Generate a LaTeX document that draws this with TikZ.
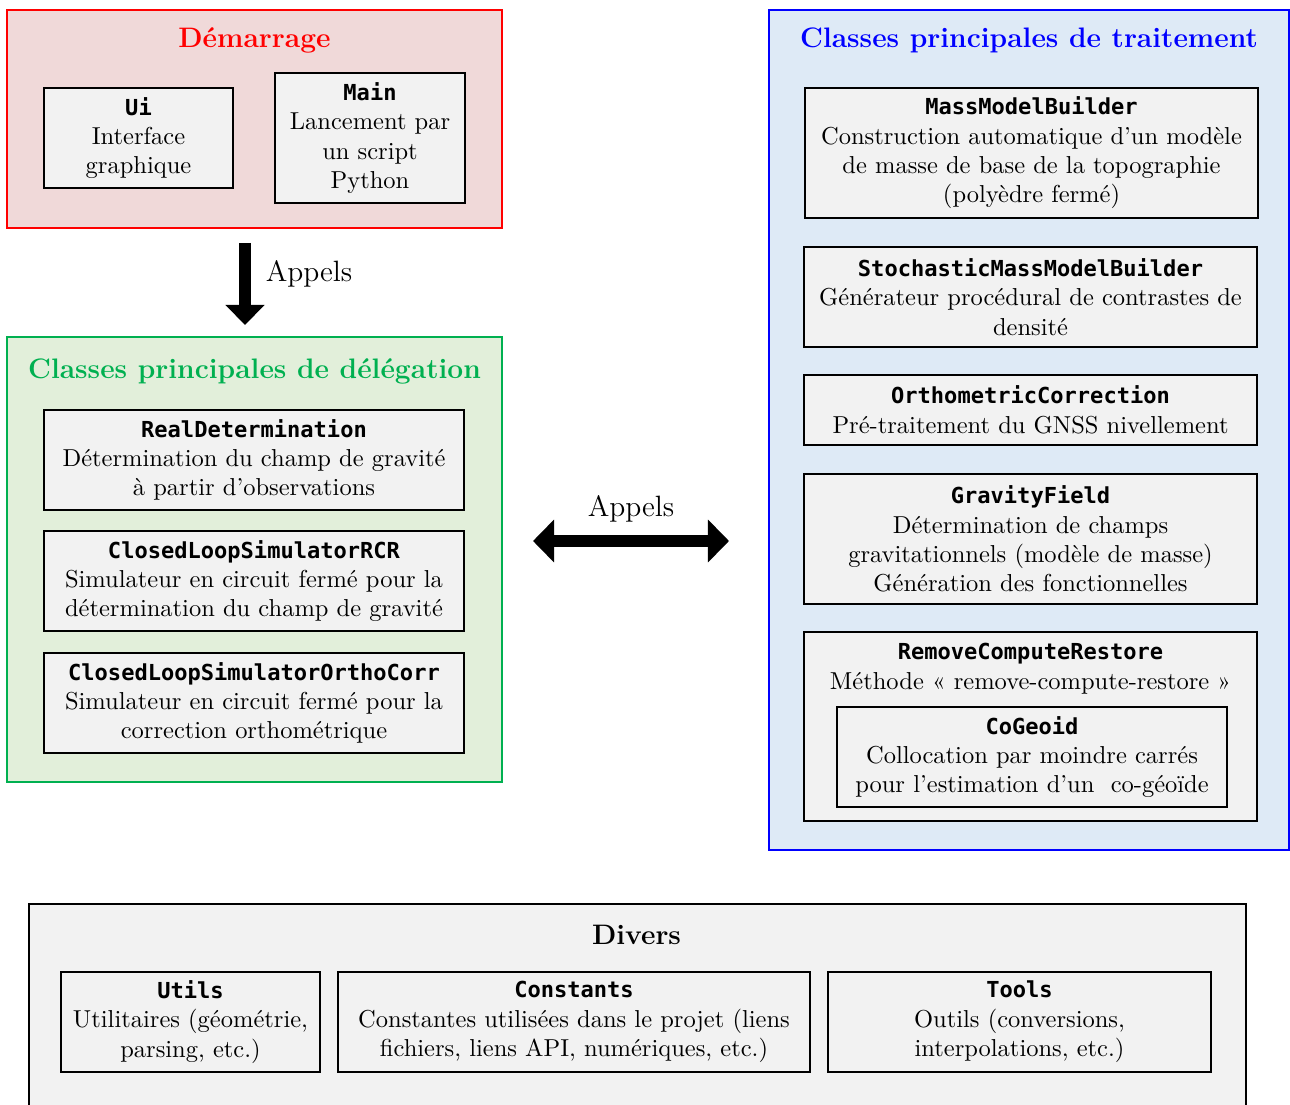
\documentclass[tikz,border=0pt]{standalone}
\usepackage{fontspec}
\newfontfamily\codefont{DejaVu Sans Mono}[Scale=0.9]
\usetikzlibrary{arrows.meta,calc}
\newdimen\pxu \pxu=0.4082pt
\definecolor{startfill}{RGB}{240,217,217}
\definecolor{startline}{RGB}{255,0,0}
\definecolor{delegfill}{RGB}{226,239,218}
\definecolor{delegline}{RGB}{0,176,80}
\definecolor{procfill}{RGB}{222,234,246}
\definecolor{procline}{RGB}{0,0,255}
\definecolor{classfill}{RGB}{242,242,242}
\newcommand{\cls}[1]{{\codefont\bfseries #1}}
\begin{document}
\begin{tikzpicture}[x=1\pxu, y=-1\pxu,
  group/.style={draw, line width=0.8pt, inner sep=0pt},
  grouptitle/.style={font=\fontsize{11.5}{14}\selectfont\bfseries, inner sep=0pt},
  classbox/.style={draw=black, fill=classfill, line width=1pt, align=center, inner sep=0pt},
  fatarrow/.style={line width=4.5pt, -{Triangle[width=15.5pt,length=8.2pt]}},
  fatdouble/.style={line width=4.9pt, {Triangle[width=17pt,length=8.6pt]}-{Triangle[width=17pt,length=8.6pt]}},
  lbl/.style={inner sep=0pt, font=\large}]
\useasboundingbox (0,0) rectangle (1290,1104);
\clip (0,0) rectangle (1290,1104);

% --- Démarrage ---
\node[group, draw=startline, fill=startfill, minimum width=495\pxu, minimum height=218\pxu] (dem) at (254.5,119) {};
\node[grouptitle, text=startline] (demt) at (254.5,40) {Démarrage};
\node[classbox, minimum width=189\pxu, minimum height=100\pxu] (ui) at (138.5,138)
  {\cls{Ui}\\Interface\\graphique};
\node[classbox, minimum width=190\pxu, minimum height=130\pxu] (main) at (370,138)
  {\cls{Main}\\Lancement par\\un script\\Python};

% --- Délégation ---
\node[group, draw=delegline, fill=delegfill, minimum width=495\pxu, minimum height=445\pxu] (deleg) at (254.5,559.5) {};
\node[grouptitle, text=delegline] (delegt) at (254.5,371) {Classes principales de délégation};
\node[classbox, minimum width=420\pxu, minimum height=100\pxu] (realdet) at (254,460)
  {\cls{RealDetermination}\\Détermination du champ de gravité\\à partir d’observations};
\node[classbox, minimum width=420\pxu, minimum height=100\pxu] (rcrsim) at (254,581)
  {\cls{ClosedLoopSimulatorRCR}\\Simulateur en circuit fermé pour la\\détermination du champ de gravité};
\node[classbox, minimum width=420\pxu, minimum height=100\pxu] (orthosim) at (254,703)
  {\cls{ClosedLoopSimulatorOrthoCorr}\\Simulateur en circuit fermé pour la\\correction orthométrique};

% --- Traitement ---
\node[group, draw=procline, fill=procfill, minimum width=520\pxu, minimum height=840\pxu] (proc) at (1029,430) {};
\node[grouptitle, text=procline] (proct) at (1029,40) {Classes principales de traitement};
\node[classbox, minimum width=453\pxu, minimum height=130\pxu] (mmb) at (1031.5,153)
  {\cls{MassModelBuilder}\\Construction automatique d’un modèle\\de masse de base de la topographie\\(polyèdre fermé)};
\node[classbox, minimum width=453\pxu, minimum height=100\pxu] (smmb) at (1030.5,297)
  {\cls{StochasticMassModelBuilder}\\Générateur procédural de contrastes de\\densité};
\node[classbox, minimum width=453\pxu, minimum height=70\pxu] (orc) at (1030.5,410)
  {\cls{OrthometricCorrection}\\Pré-traitement du GNSS nivellement};
\node[classbox, minimum width=453\pxu, minimum height=130\pxu] (gf) at (1030.5,539)
  {\cls{GravityField}\\Détermination de champs\\gravitationnels (modèle de masse)\\Génération des fonctionnelles};
\node[classbox, minimum width=453\pxu, minimum height=189\pxu] (rcr) at (1030.5,726.5) {};
\node[lbl, font=\normalsize, align=center, anchor=north] (rcrt) at (1030.5,643)
  {\cls{RemoveComputeRestore}\\Méthode « remove-compute-restore »};
\node[classbox, minimum width=390\pxu, minimum height=100\pxu] (cogeoid) at (1032,757)
  {\cls{CoGeoid}\\Collocation par moindre carrés\\pour l’estimation d’un~ co-géoïde};

% --- Divers ---
\node[group, draw=black, fill=classfill, minimum width=1217\pxu, minimum height=240\pxu, anchor=north west] (misc) at (28,903) {};
\node[grouptitle] (misct) at (636.5,935) {Divers};
\node[classbox, minimum width=259\pxu, minimum height=100\pxu] (utils) at (190.5,1022)
  {\cls{Utils}\\Utilitaires (géométrie,\\parsing, etc.)};
\node[classbox, minimum width=472\pxu, minimum height=100\pxu] (consts) at (574,1022)
  {\cls{Constants}\\Constantes utilisées dans le projet (liens\\fichiers, liens API, numériques, etc.)};
\node[classbox, minimum width=383\pxu, minimum height=100\pxu] (tools) at (1019.5,1022)
  {\cls{Tools}\\Outils (conversions,\\interpolations, etc.)};

% --- Appels ---
\draw[fatarrow] ($(dem.south)+(-9.5,14)$) -- ($(deleg.north)+(-9.5,-11)$);
\node[lbl] (appels1) at (309,274) {Appels};
\draw[fatdouble] ($(deleg.east)+(30,-18.5)$) -- ($(proc.west)+(-39,111)$);
\node[lbl] (appels2) at (631,509) {Appels};
\end{tikzpicture}
\end{document}
